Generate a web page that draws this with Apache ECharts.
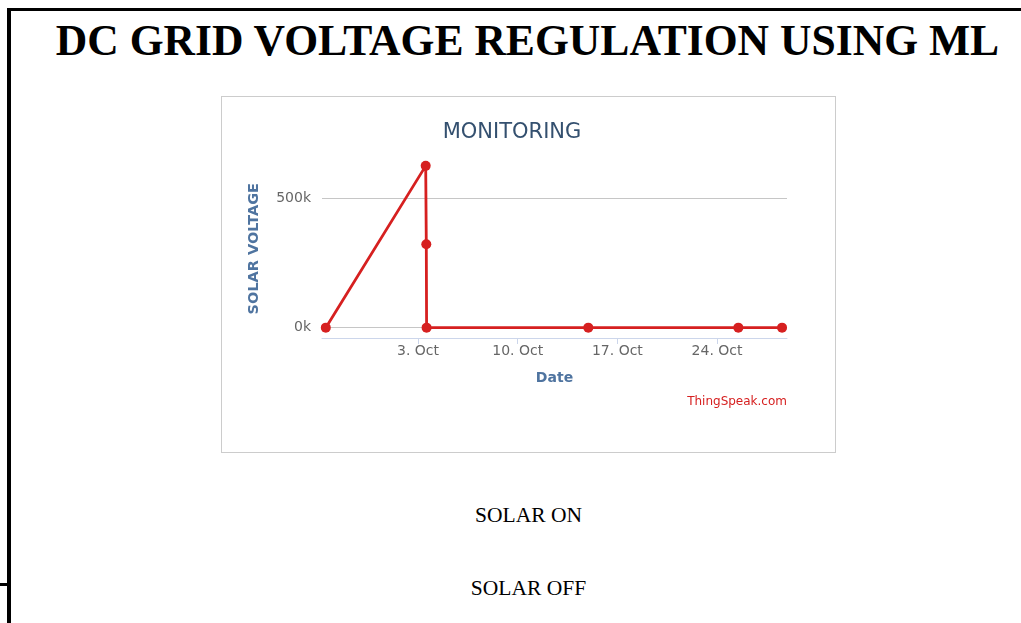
<!DOCTYPE html>
<html>
<head>
<meta charset="utf-8">
<script src="https://cdn.jsdelivr.net/npm/echarts@6/dist/echarts.min.js"></script>
<style>
  html, body { margin: 0; padding: 0; width: 1021px; height: 623px; overflow: hidden; background: #fff; }
  .bar { position: absolute; background: #000; }
  .txt { position: absolute; font-family: "Liberation Serif", "Times New Roman", serif; color: #000; white-space: nowrap; line-height: 1; }
  #chart { position: absolute; left: 221px; top: 96px; width: 615px; height: 357px; border: 1px solid #cccccc; box-sizing: border-box; background: #fff; }
</style>
</head>
<body>
<div class="bar" style="left:7px; top:8px; width:1014px; height:3px;"></div>
<div class="bar" style="left:7px; top:8px; width:4px; height:615px;"></div>
<div class="bar" style="left:0px; top:583px; width:8px; height:3px;"></div>
<div class="txt" style="left:0; width:1055px; top:19px; text-align:center; font-size:43.6px; font-weight:bold;">DC GRID VOLTAGE REGULATION USING ML</div>
<div id="chart"></div>
<div class="txt" style="left:0; width:1057px; top:505px; text-align:center; font-size:21.5px;">SOLAR ON</div>
<div class="txt" style="left:0; width:1057px; top:578px; text-align:center; font-size:21.5px;">SOLAR OFF</div>
<script>
// ---- data ----
const chartTitle = 'MONITORING';
const yAxisName = 'SOLAR VOLTAGE';
const xAxisName = 'Date';
const creditText = 'ThingSpeak.com';
const times = ['2023-09-26T12:40', '2023-10-03T13:00', '2023-10-03T14:00', '2023-10-03T14:30', '2023-10-14T23:00', '2023-10-25T11:50', '2023-10-28T13:30'];
const voltages = [0, 625000, 322000, 0, 0, 0, 0];
const xTickDates = ['2023-10-03T00:00', '2023-10-10T00:00', '2023-10-17T00:00', '2023-10-24T00:00'];
const yTickValues = [0, 500000];
const xRange = ['2023-09-26T06:15', '2023-10-28T21:50'];
const yRange = [-40000, 650000];
const monthNames = ['Jan','Feb','Mar','Apr','May','Jun','Jul','Aug','Sep','Oct','Nov','Dec'];

const t = s => new Date(s).getTime();
const seriesData = times.map((s, i) => [t(s), voltages[i]]);

const chart = echarts.init(document.getElementById('chart'), null, { renderer: 'canvas' });
const FONT = '"DejaVu Sans", Verdana, sans-serif';
chart.setOption({
  animation: false,
  backgroundColor: '#ffffff',
  title: {
    text: chartTitle,
    left: 285,
    textAlign: 'center',
    top: 20,
    textStyle: { fontFamily: FONT, fontSize: 21, fontWeight: 'normal', color: '#34506f' }
  },
  grid: { left: 100, top: 62.4, width: 465, height: 178.6, outerBoundsMode: 'none', containLabel: false },
  xAxis: {
    type: 'value',
    min: t(xRange[0]),
    max: t(xRange[1]),
    name: xAxisName,
    nameLocation: 'middle',
    nameGap: 33,
    nameTextStyle: { fontFamily: FONT, fontSize: 14, fontWeight: 'bold', color: '#4f74a0', verticalAlign: 'top' },
    axisLine: { show: true, onZero: false, lineStyle: { color: '#ccd6eb', width: 1 } },
    axisTick: { show: true, length: 6, lineStyle: { color: '#ccd6eb' }, customValues: xTickDates.map(t) },
    axisLabel: {
      customValues: xTickDates.map(t),
      margin: 6,
      fontFamily: FONT, fontSize: 14, color: '#666666',
      formatter: v => { const d = new Date(v); return d.getDate() + '. ' + monthNames[d.getMonth()]; }
    },
    splitLine: { show: false }
  },
  yAxis: {
    type: 'value',
    min: yRange[0],
    max: yRange[1],
    name: yAxisName,
    nameLocation: 'middle',
    nameRotate: 90,
    nameGap: 60,
    nameTextStyle: { fontFamily: FONT, fontSize: 14.5, fontWeight: 'bold', color: '#4f74a0' },
    axisLine: { show: false },
    axisTick: { show: false, customValues: yTickValues },
    axisLabel: {
      customValues: yTickValues,
      margin: 11,
      fontFamily: FONT, fontSize: 14, color: '#666666',
      formatter: v => (v / 1000) + 'k'
    },
    splitLine: { show: true, lineStyle: { color: '#c6c6c6', width: 1 } }
  },
  series: [{
    type: 'line',
    data: seriesData,
    symbol: 'circle',
    symbolSize: 10,
    showAllSymbol: true,
    lineStyle: { color: '#d62020', width: 2.8 },
    itemStyle: { color: '#d62020' },
    clip: false
  }],
  graphic: [{
    type: 'text',
    right: 613 - 565,
    top: 299,
    style: { text: creditText, fontFamily: FONT, fontSize: 12, fill: '#d62020' }
  }]
});
</script>
</body>
</html>
